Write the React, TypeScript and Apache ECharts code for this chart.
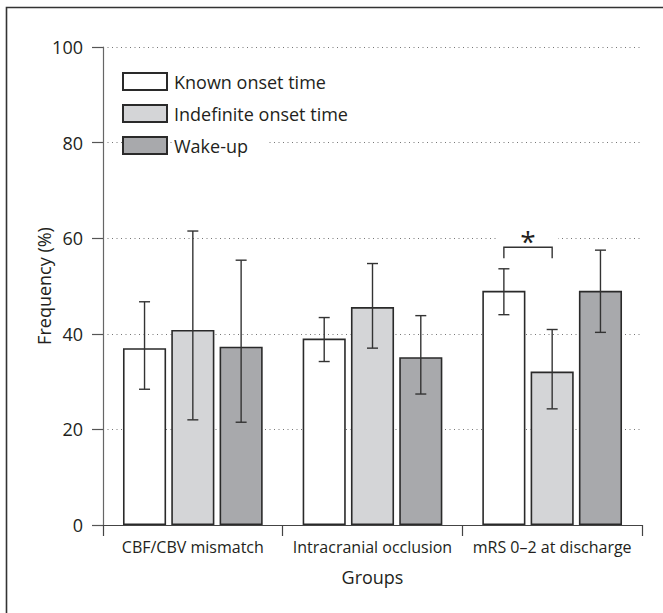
import React, { useEffect, useRef } from "react";
import * as echarts from "echarts";

const categories = ["CBF/CBV mismatch", "Intracranial occlusion", "mRS 0\u20132 at discharge"];
const seriesNames = ["Known onset time", "Indefinite onset time", "Wake-up"];

const knownValues = [37.0, 39.0, 49.0];
const knownLow = [28.4, 34.2, 44.0];
const knownHigh = [46.7, 43.4, 53.6];

const indefiniteValues = [40.8, 45.6, 32.1];
const indefiniteLow = [22.0, 37.0, 24.3];
const indefiniteHigh = [61.5, 54.7, 40.9];

const wakeValues = [37.3, 35.1, 49.0];
const wakeLow = [21.5, 27.4, 40.3];
const wakeHigh = [55.4, 43.8, 57.5];

// significance bracket: [category, fromSeries, toSeries, bracketBottom, bracketTop, starLevel]
const significance = [[2, 0, 1, 55.8, 58.1, 60.7]];

const yTicks = [0, 20, 40, 60, 80, 100];

const FONT = "'Open Sans', 'Noto Sans', sans-serif";
const TEXT = "#231f20";
const BAR_W = 0.24;
const BAR_GAP = 0.12;

export default function App() {
  const ref = useRef<HTMLDivElement>(null);

  useEffect(() => {
    if (!ref.current) return;
    const chart = echarts.init(ref.current, undefined, { renderer: "svg" });

    const values = [knownValues, indefiniteValues, wakeValues];
    const lows = [knownLow, indefiniteLow, wakeLow];
    const highs = [knownHigh, indefiniteHigh, wakeHigh];
    const fills = ["#ffffff", "#d4d5d7", "#a8a9ac"];

    const errData: number[][] = [];
    values.forEach((_, s) => {
      categories.forEach((_, c) => {
        errData.push([c, s, lows[s][c], highs[s][c]]);
      });
    });

    const barSeries = values.map((v, s) => ({
      name: seriesNames[s],
      type: "bar",
      data: v,
      barWidth: BAR_W * 100 + "%",
      barGap: BAR_GAP * 100 + "%",
      itemStyle: { color: fills[s], borderColor: "#2a2a2a", borderWidth: 1.6 },
      z: 2,
    }));

    const option: any = {
      animation: false,
      backgroundColor: "#ffffff",
      textStyle: { fontFamily: FONT },
      grid: { left: 103, right: 21, top: 47, bottom: 88 },
      legend: {
        orient: "vertical",
        left: 122,
        top: 72,
        padding: 0,
        icon: "rect",
        itemWidth: 44,
        itemHeight: 17,
        itemGap: 13,
        selectedMode: false,
        data: seriesNames,
        textStyle: {
          fontFamily: FONT,
          fontSize: 18,
          lineHeight: 18,
          color: TEXT,
          backgroundColor: "#ffffff",
          padding: [0, 18, 0, 2],
        },
      },
      xAxis: {
        type: "category",
        data: categories,
        axisLine: { lineStyle: { color: "#444", width: 1.2 } },
        axisTick: { show: true, length: 11, lineStyle: { color: "#444", width: 1.2 } },
        axisLabel: {
          fontFamily: FONT,
          fontSize: 16,
          color: TEXT,
          margin: 14,
          interval: 0,
          hideOverlap: false,
        },
        name: "Groups",
        nameLocation: "middle",
        nameGap: 43,
        nameTextStyle: { fontFamily: FONT, fontSize: 18, color: TEXT },
      },
      yAxis: {
        type: "value",
        min: yTicks[0],
        max: yTicks[yTicks.length - 1],
        interval: yTicks[1] - yTicks[0],
        axisLine: { show: true, lineStyle: { color: "#666", width: 1.2 } },
        axisTick: { show: true, length: 11, lineStyle: { color: "#555", width: 1.2 } },
        axisLabel: { fontFamily: FONT, fontSize: 18, color: TEXT, margin: 20 },
        splitLine: { show: true, lineStyle: { color: "#777", type: [1, 3.5], width: 1 } },
        name: "Frequency (%)",
        nameLocation: "middle",
        nameGap: 50,
        nameMoveOverlap: false,
        nameRotate: 90,
        nameTextStyle: { fontFamily: FONT, fontSize: 18, color: TEXT },
      },
      graphic: [
        {
          type: "rect",
          silent: true,
          shape: { x: 6.5, y: 7.5, width: 720, height: 720 },
          style: { fill: "none", stroke: "#333", lineWidth: 1.6 },
        },
      ],
      series: [
        ...barSeries,
        {
          type: "custom",
          name: "errors",
          data: errData,
          encode: { x: 0, y: [2, 3] },
          z: 5,
          silent: true,
          renderItem: (params: any, api: any) => {
            const cat = api.value(0);
            const s = api.value(1);
            const lo = api.value(2);
            const hi = api.value(3);
            const band = api.size([1, 0])[0];
            const step = band * BAR_W * (1 + BAR_GAP);
            const cx = api.coord([cat, 0])[0] + (s - 1) * step;
            const yLo = api.coord([cat, lo])[1];
            const yHi = api.coord([cat, hi])[1];
            const hw = 5.5;
            const st = { stroke: "#333", lineWidth: 1.4 };
            return {
              type: "group",
              children: [
                { type: "line", shape: { x1: cx, y1: yLo, x2: cx, y2: yHi }, style: st },
                { type: "line", shape: { x1: cx - hw, y1: yLo, x2: cx + hw, y2: yLo }, style: st },
                { type: "line", shape: { x1: cx - hw, y1: yHi, x2: cx + hw, y2: yHi }, style: st },
              ],
            };
          },
        },
        {
          type: "custom",
          name: "significance",
          data: significance,
          encode: { x: 0, y: [3, 4, 5] },
          z: 6,
          silent: true,
          renderItem: (params: any, api: any) => {
            const cat = api.value(0);
            const s0 = api.value(1);
            const s1 = api.value(2);
            const band = api.size([1, 0])[0];
            const step = band * BAR_W * (1 + BAR_GAP);
            const c = api.coord([cat, 0])[0];
            const x0 = c + (s0 - 1) * step;
            const x1 = c + (s1 - 1) * step;
            const yB = api.coord([cat, api.value(3)])[1];
            const yT = api.coord([cat, api.value(4)])[1];
            const yS = api.coord([cat, api.value(5)])[1];
            const mid = (x0 + x1) / 2;
            return {
              type: "group",
              children: [
                {
                  type: "rect",
                  shape: { x: mid - 30, y: yS - 6, width: 60, height: 12 },
                  style: { fill: "#ffffff" },
                },
                {
                  type: "polyline",
                  shape: { points: [[x0, yB], [x0, yT], [x1, yT], [x1, yB]] },
                  style: { stroke: "#333", lineWidth: 1.4, fill: "none" },
                },
                {
                  type: "text",
                  x: mid,
                  y: yS + 6,
                  style: {
                    text: "*",
                    fontFamily: FONT,
                    fontSize: 28,
                    fill: TEXT,
                    align: "center",
                    verticalAlign: "middle",
                  },
                },
              ],
            };
          },
        },
      ],
    };

    chart.setOption(option);
    return () => chart.dispose();
  }, []);

  return (
    <div
      ref={ref}
      style={{ position: "fixed", left: 0, top: 0, width: 663, height: 613, background: "#fff" }}
    />
  );
}
